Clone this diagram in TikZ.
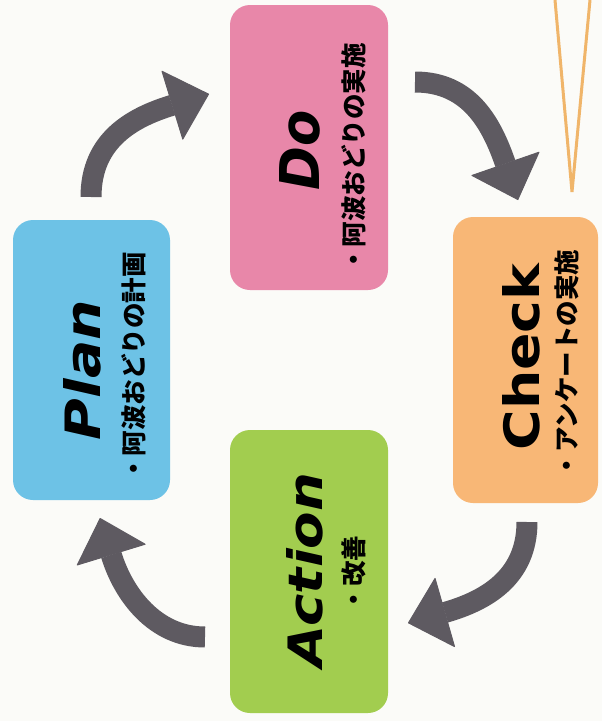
\documentclass[tikz,border=0pt]{standalone}
\usepackage{fontspec}
\setsansfont{DejaVu Sans}
\newfontfamily\jpfont{Noto Sans CJK JP}
\usetikzlibrary{arrows.meta}
\definecolor{bgc}{HTML}{FBFBF8}
\definecolor{pinkc}{HTML}{E887A9}
\definecolor{bluec}{HTML}{6DC2E6}
\definecolor{orangec}{HTML}{F8B776}
\definecolor{greenc}{HTML}{A2CD4F}
\definecolor{arrowc}{HTML}{5E5A61}
\definecolor{vlinec}{HTML}{F0B56A}
\begin{document}
\begin{tikzpicture}[x=1pt,y=-1pt,
  card/.style={rounded corners=20pt, inner sep=0pt, draw=none},
  titletext/.style={rotate=90, inner sep=0pt, text=black},
  subtext/.style={rotate=90, inner sep=0pt, text=black,
    font=\jpfont\bfseries\fontsize{25.5}{25.5}\selectfont},
  cyc/.style={draw=arrowc, line width=21pt,
    -{Triangle[width=73pt,length=39pt,line width=1pt,round]}}]
\useasboundingbox[fill=bgc] (0,0) rectangle (602,721);
% faint background lines
\draw[vlinec, line width=3pt] (555,0) -- (572,192) -- (590,0);
% cards
\node[card, fill=pinkc, minimum width=158pt, minimum height=285pt] (do) at (309,147.5) {};
\node[card, fill=orangec, minimum width=145pt, minimum height=286pt] (check) at (525.5,360) {};
\node[card, fill=greenc, minimum width=158pt, minimum height=283pt] (action) at (309,571.5) {};
\node[card, fill=bluec, minimum width=157pt, minimum height=280pt] (plan) at (91.5,360) {};
% titles
\node[titletext] (dot) at (300,150) {\resizebox{80pt}{40pt}{\sffamily\bfseries\itshape Do}};
\node[titletext] (checkt) at (521,357) {\resizebox{187pt}{37pt}{\sffamily\bfseries Check}};
\node[titletext] (actiont) at (305,570) {\resizebox{194pt}{36pt}{\sffamily\bfseries\itshape Action}};
\node[titletext] (plant) at (82,370) {\resizebox{140pt}{37pt}{\sffamily\bfseries\itshape Plan}};
% subtitles
\node[subtext] (dos) at (354,158) {・阿波おどりの実施};
\node[subtext] (checks) at (567,364) {・アンケートの実施};
\node[subtext] (actions) at (354,574) {・改善};
\node[subtext] (plans) at (134,367) {・阿波おどりの計画};
% cycle arrows
\coordinate (a1s) at (91,197);  \coordinate (a1e) at (209,94);
\coordinate (a2s) at (415,82);  \coordinate (a2e) at (518,200);
\coordinate (a3s) at (527,522); \coordinate (a3e) at (408,623);
\coordinate (a4s) at (205,637); \coordinate (a4e) at (100,518);
\draw[cyc] (a1s) .. controls (91,140) and (132.5,117.4) .. (a1e);
\draw[cyc] (a2s) .. controls (470,82) and (491.8,124.4) .. (a2e);
\draw[cyc] (a3s) .. controls (527,578) and (485,601) .. (a3e);
\draw[cyc] (a4s) .. controls (155,637) and (123.4,594.5) .. (a4e);
\end{tikzpicture}
\end{document}
